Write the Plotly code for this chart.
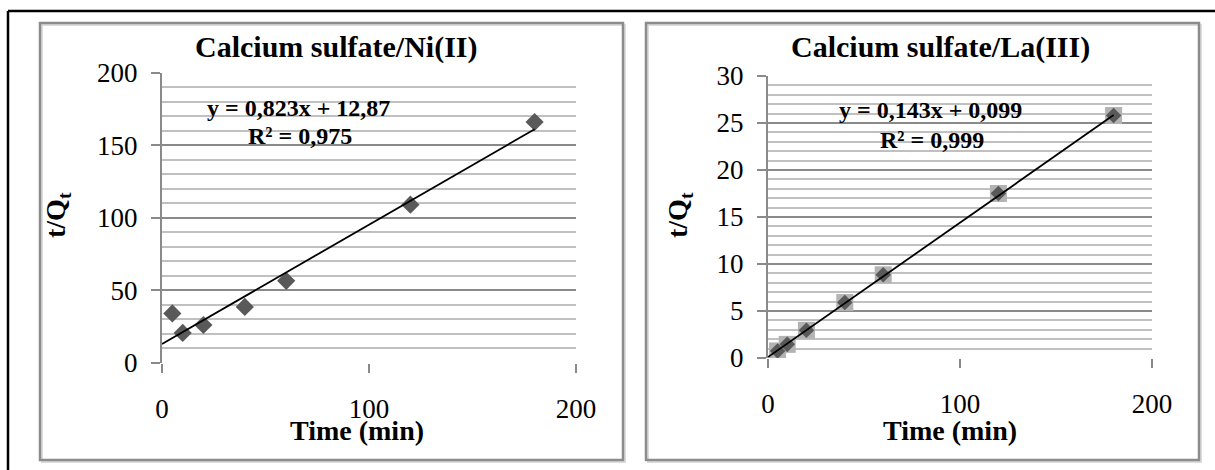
import plotly.graph_objects as go

W, H = 1215, 470

# ---- data ----
time_min = [5, 10, 20, 40, 60, 120, 180]
ni_tq = [34, 20.5, 26, 38.5, 56.5, 109, 166]
la_tq = [0.75, 1.45, 2.95, 5.9, 8.85, 17.5, 25.8]
ni_fit = (0.823, 12.87)   # slope, intercept
la_fit = (0.143, 0.099)
fit_x = [0, 180]
titles = ["Calcium sulfate/Ni(II)", "Calcium sulfate/La(III)"]
eq_texts = [["y = 0,823x + 12,87", "R² = 0,975"], ["y = 0,143x + 0,099", "R² = 0,999"]]
x_ticks = [0, 100, 200]
ni_y_ticks = [0, 50, 100, 150, 200]
la_y_ticks = [0, 5, 10, 15, 20, 25, 30]

FONT = "Liberation Serif"
def px(x): return x / W
def py(y): return 1 - y / H

fig = go.Figure()

fig.add_trace(go.Scatter(x=time_min, y=ni_tq, mode="markers", xaxis="x", yaxis="y",
                         marker=dict(symbol="diamond", size=14, color="#595959"), showlegend=False))
fig.add_trace(go.Scatter(x=fit_x, y=[ni_fit[0] * v + ni_fit[1] for v in fit_x], mode="lines",
                         xaxis="x", yaxis="y", line=dict(color="black", width=1.8), showlegend=False))
fig.add_trace(go.Scatter(x=time_min, y=la_tq, mode="markers", xaxis="x2", yaxis="y2",
                         marker=dict(symbol="square", size=17, color="#b3b3b3"), showlegend=False))
fig.add_trace(go.Scatter(x=time_min, y=la_tq, mode="markers", xaxis="x2", yaxis="y2",
                         marker=dict(symbol="diamond", size=12, color="#595959"), showlegend=False))
fig.add_trace(go.Scatter(x=fit_x, y=[la_fit[0] * v + la_fit[1] for v in fit_x], mode="lines",
                         xaxis="x2", yaxis="y2", line=dict(color="black", width=1.8), showlegend=False))

MAJ = "#8a8a8a"
MIN = "#c0c0c0"

def xaxis(domain, anchor):
    return dict(domain=domain, anchor=anchor, range=[0, 200], tickvals=x_ticks,
                showgrid=False, zeroline=False, showline=False, automargin=False,
                ticks="outside", ticklen=9, tickwidth=2, tickcolor=MAJ,
                ticklabelstandoff=13, tickfont=dict(family=FONT, size=27, color="black"),
                fixedrange=True)

def yaxis(domain, anchor, rng, ticks, minor):
    return dict(domain=domain, anchor=anchor, range=rng, tickvals=ticks,
                showgrid=True, gridcolor=MAJ, gridwidth=2, zeroline=False,
                showline=True, linecolor=MAJ, linewidth=2, automargin=False,
                ticks="outside", ticklen=9, tickwidth=2, tickcolor=MAJ,
                ticklabelstandoff=8, tickfont=dict(family=FONT, size=27, color="black"),
                minor=dict(dtick=minor, showgrid=True, gridcolor=MIN, gridwidth=2, ticks=""),
                fixedrange=True)

fig.update_layout(
    template="none",
    width=W, height=H, margin=dict(l=0, r=0, t=0, b=0, pad=0, autoexpand=False),
    paper_bgcolor="white", plot_bgcolor="white", showlegend=False,
    xaxis=xaxis([px(162), px(576)], "y"),
    yaxis=yaxis([py(362.7), py(72.7)], "x", [0, 200], ni_y_ticks, 10),
    xaxis2=xaxis([px(768), px(1152)], "y2"),
    yaxis2=yaxis([py(358), py(76)], "x2", [0, 30], la_y_ticks, 1),
)

shapes = []
shapes.append(dict(type="line", xref="paper", yref="paper", x0=px(8), x1=1.0, y0=py(11), y1=py(11),
                   line=dict(color="black", width=2.5)))
shapes.append(dict(type="line", xref="paper", yref="paper", x0=px(8), x1=px(8), y0=py(11), y1=0.0,
                   line=dict(color="black", width=2.5)))
for (x0, x1) in [(40, 623), (646, 1199)]:
    shapes.append(dict(type="rect", xref="paper", yref="paper", x0=px(x0 + 2), x1=px(x1 + 2),
                       y0=py(462), y1=py(25), line=dict(color="#dcdcdc", width=2)))
    shapes.append(dict(type="rect", xref="paper", yref="paper", x0=px(x0), x1=px(x1),
                       y0=py(460), y1=py(23), line=dict(color="#8c8c8c", width=2.5)))
fig.update_layout(shapes=shapes)

ann = []
def txt(x, y, t, size, bold=True, angle=0):
    ann.append(dict(xref="paper", yref="paper", x=px(x), y=py(y), text=("<b>%s</b>" % t) if bold else t,
                    showarrow=False, xanchor="center", yanchor="middle", textangle=angle,
                    font=dict(family=FONT, size=size, color="black")))

txt(336, 47, titles[0], 30)
txt(940, 47, titles[1], 30)
txt(298, 108, eq_texts[0][0], 24)
txt(300, 136, eq_texts[0][1], 24)
txt(930, 110, eq_texts[1][0], 24)
txt(932, 140, eq_texts[1][1], 24)
txt(357, 430, "Time (min)", 28)
txt(950, 430, "Time (min)", 28)
txt(58, 215, "t/Q<sub>t</sub>", 28, angle=-90)
txt(680, 215, "t/Q<sub>t</sub>", 28, angle=-90)
fig.update_layout(annotations=ann)

fig.write_html("out.html", config={"displayModeBar": False},
               post_script="document.body.style.margin='0';document.body.style.overflow='hidden';")
